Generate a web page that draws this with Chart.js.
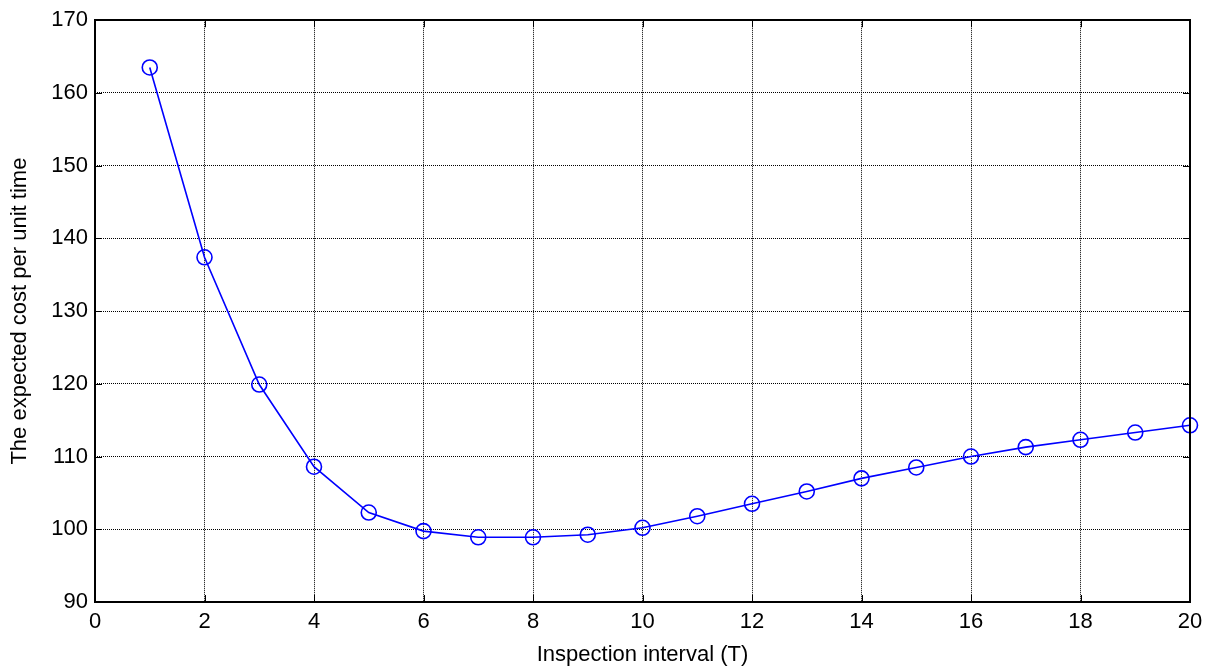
<!DOCTYPE html>
<html>
<head>
<meta charset="utf-8">
<script src="https://cdn.jsdelivr.net/npm/chart.js@4"></script>
<style>
html,body{margin:0;padding:0;background:#fff;}
#wrap{width:1215px;height:670px;position:relative;}
</style>
</head>
<body>
<div id="wrap"><canvas id="c" width="1215" height="670"></canvas></div>
<script>
const intervals = [1,2,3,4,5,6,7,8,9,10,11,12,13,14,15,16,17,18,19,20];
const expectedCost = [163.5,137.4,119.9,108.6,102.3,99.75,98.9,98.9,99.25,100.2,101.8,103.5,105.2,107.0,108.5,110.0,111.3,112.3,113.3,114.3];
const xTicks = [0,2,4,6,8,10,12,14,16,18,20];
const yTicks = [90,100,110,120,130,140,150,160,170];
const xTitle = 'Inspection interval (T)';
const yTitle = 'The expected cost per unit time';

const FONT = 'Liberation Sans, Arial, sans-serif';

const boxPlugin = {
  id: 'box',
  afterDatasetsDraw(chart) {
    const {ctx, chartArea: a, scales} = chart;
    ctx.save();
    ctx.strokeStyle = '#000';
    ctx.lineWidth = 1;
    const tl = 7;
    ctx.beginPath();
    xTicks.forEach(v => {
      const px = Math.round(scales.x.getPixelForValue(v)) + 0.5;
      ctx.moveTo(px, a.bottom); ctx.lineTo(px, a.bottom - tl);
      ctx.moveTo(px, a.top); ctx.lineTo(px, a.top + tl);
    });
    yTicks.forEach(v => {
      const py = Math.round(scales.y.getPixelForValue(v)) + 0.5;
      ctx.moveTo(a.left, py); ctx.lineTo(a.left + tl, py);
      ctx.moveTo(a.right, py); ctx.lineTo(a.right - tl, py);
    });
    ctx.stroke();
    ctx.lineWidth = 2;
    ctx.strokeRect(Math.round(a.left), Math.round(a.top), Math.round(a.right - a.left), Math.round(a.bottom - a.top));
    ctx.restore();
  }
};

new Chart(document.getElementById('c'), {
  type: 'line',
  data: {
    datasets: [{
      data: intervals.map((x, i) => ({x: x, y: expectedCost[i]})),
      borderColor: '#0000ff',
      borderWidth: 1.6,
      pointRadius: 7.5,
      pointBorderWidth: 1.6,
      pointBorderColor: '#0000ff',
      pointBackgroundColor: 'rgba(0,0,0,0)',
      pointStyle: 'circle',
      fill: false,
      tension: 0,
      clip: false
    }]
  },
  options: {
    responsive: false,
    animation: false,
    devicePixelRatio: 1,
    layout: {padding: {top: 19, right: 25, left: 0, bottom: 0}},
    plugins: {legend: {display: false}, tooltip: {enabled: false}},
    scales: {
      x: {
        type: 'linear',
        min: 0, max: 20,
        afterBuildTicks: s => { s.ticks = xTicks.map(v => ({value: v})); },
        afterFit: s => { s.height = 68; },
        border: {display: false, dash: [1, 1]},
        grid: {color: '#000', lineWidth: 1, drawTicks: false},
        ticks: {color: '#000', font: {family: FONT, size: 22}, padding: 7, maxRotation: 0, autoSkip: false},
        title: {display: true, text: xTitle, color: '#000', font: {family: FONT, size: 22}, padding: {top: 0, bottom: 2}}
      },
      y: {
        type: 'linear',
        min: 90, max: 170,
        afterBuildTicks: s => { s.ticks = yTicks.map(v => ({value: v})); },
        afterFit: s => { s.width = 95; },
        border: {display: false, dash: [1, 1]},
        grid: {color: '#000', lineWidth: 1, drawTicks: false},
        ticks: {color: '#000', font: {family: FONT, size: 22}, padding: 7, autoSkip: false},
        title: {display: true, text: yTitle, color: '#000', font: {family: FONT, size: 22}, padding: {top: 7, bottom: 0}}
      }
    }
  },
  plugins: [boxPlugin]
});
</script>
</body>
</html>
